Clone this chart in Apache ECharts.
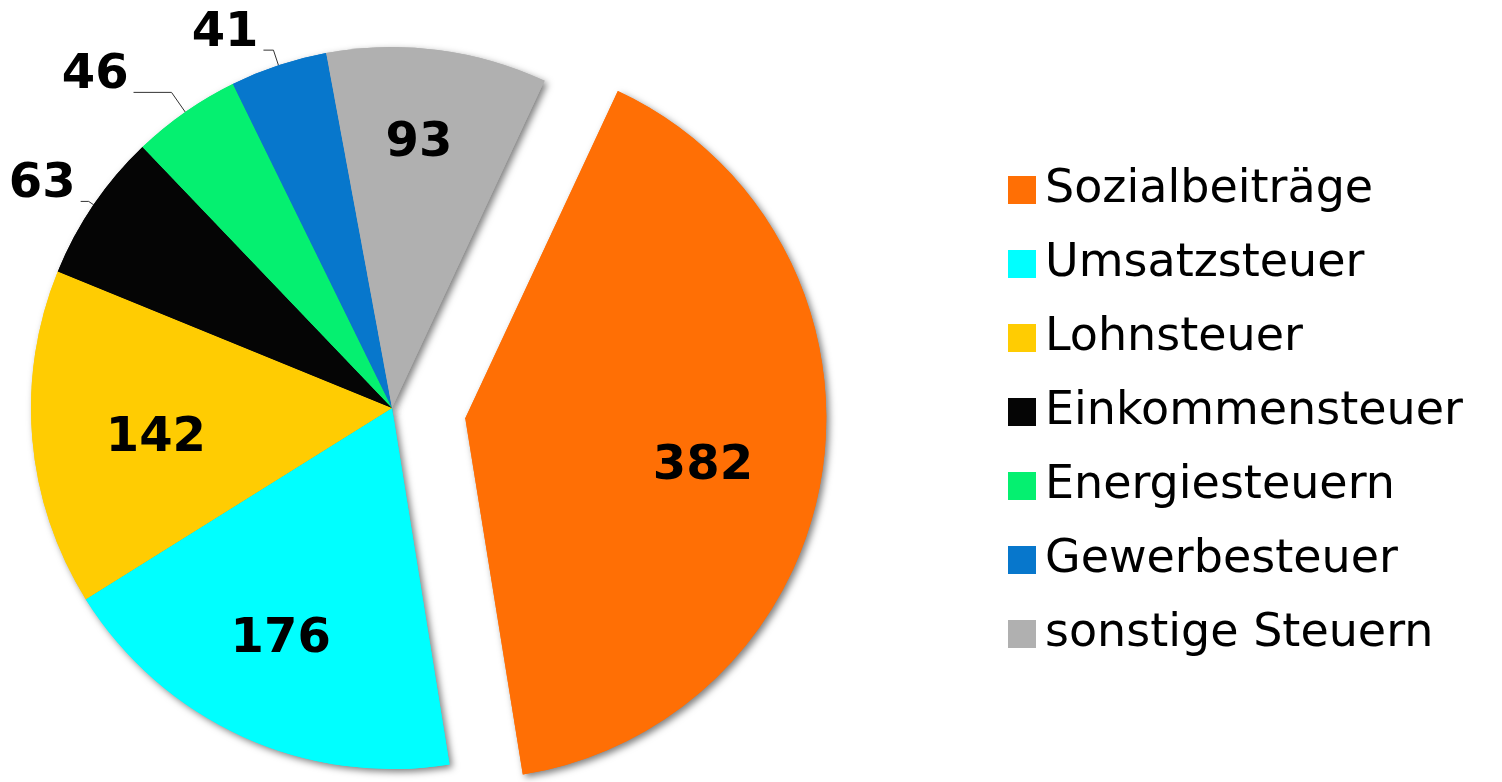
<!DOCTYPE html>
<html>
<head>
<meta charset="utf-8">
<title>Einnahmen</title>
<script src="https://cdn.jsdelivr.net/npm/echarts@6/dist/echarts.min.js"></script>
<style>
  html, body { margin: 0; padding: 0; background: #fff; }
  #chart { width: 1502px; height: 782px; }
</style>
</head>
<body>
<div id="chart"></div>
<script>
// Werte in Mrd. Euro
let categories = ['Sozialbeiträge', 'Umsatzsteuer', 'Lohnsteuer', 'Einkommensteuer', 'Energiesteuern', 'Gewerbesteuer', 'sonstige Steuern']
let values = [382, 176, 142, 63, 46, 41, 93]
let colors = ['#ff6f05', '#00ffff', '#ffcc02', '#050505', '#05f070', '#0777cc', '#b0b0b0']
// which slices get their number inside, the others get a label line
let insideLabel = [true, true, true, false, false, false, true]
// label line lengths for the outside ones
let lineLen = [0, 0, 0, 6, 24, 16, 0]
let lineLen2 = [0, 0, 0, 8, 38, 10, 0]
// empty space around the number to nudge it (px): above -> down, below -> up, left -> right, right -> left
let gapAbove = [30, 16, 20, 0, 0, 0, 0]
let gapBelow = [0, 0, 0, 34, 34, 34, 42]
let gapLeft = [0, 0, 16, 0, 0, 0, 0]
let gapRight = [10, 20, 0, 0, 0, 0, 8]

let center = [392, 408]
let radius = 361
let offset = 74

let numFont = {
  fontFamily: 'DejaVu Sans',
  fontWeight: 'bold',
  fontSize: 48,
  color: '#000'
}

function numLabel (i) {
  let f = '{v|{c}}'
  if (gapLeft[i]) f = '{l| }' + f
  if (gapRight[i]) f = f + '{r| }'
  if (gapAbove[i]) f = '{a| }\n' + f
  if (gapBelow[i]) f = f + '\n{g| }'
  return {
    formatter: f,
    rich: {
      v: Object.assign({ lineHeight: 48 }, numFont),
      a: { fontSize: 10, lineHeight: gapAbove[i] },
      g: { fontSize: 10, lineHeight: gapBelow[i] },
      l: { fontSize: 10, width: gapLeft[i] },
      r: { fontSize: 10, width: gapRight[i] }
    }
  }
}

function baseData () {
  return values.map((v, i) => ({
    name: categories[i],
    value: v,
    selected: i === 0,
    itemStyle: { color: colors[i] }
  }))
}

// colored slices + outside labels
let mainData = baseData().map((d, i) => {
  d.label = insideLabel[i] ? { show: false } : Object.assign({ show: true }, numLabel(i))
  d.labelLine = insideLabel[i] ? { show: false } : { show: true, length: lineLen[i], length2: lineLen2[i] }
  return d
})

// transparent ring, only to put the big numbers further out than half radius
let ringData = baseData().map((d, i) => {
  d.itemStyle = { color: 'rgba(0,0,0,0)' }
  d.label = Object.assign({ show: insideLabel[i] }, numLabel(i))
  return d
})

let common = {
  type: 'pie',
  center: center,
  startAngle: 65,
  selectedMode: 'single',
  selectedOffset: offset,
  avoidLabelOverlap: false,
  animation: false,
  emphasis: { disabled: true }
}

let option = {
  backgroundColor: '#fff',
  legend: {
    orient: 'vertical',
    left: 1003,
    top: 162,
    itemWidth: 28,
    itemHeight: 28,
    itemGap: 28,
    icon: 'rect',
    selectedMode: false,
    data: categories,
    textStyle: {
      fontFamily: 'DejaVu Sans',
      fontSize: 46,
      color: '#000',
      padding: [0, 0, 0, 4]
    }
  },
  series: [
    Object.assign({}, common, {
      name: 'Einnahmen',
      radius: [0, radius],
      z: 2,
      label: Object.assign({
        position: 'outside',
        distanceToLabelLine: 5
      }, numFont),
      labelLine: {
        lineStyle: { color: '#333', width: 1 }
      },
      data: mainData
    }),
    Object.assign({}, common, {
      name: 'Schatten',
      radius: [0, radius],
      z: 1,
      silent: true,
      label: { show: false },
      labelLine: { show: false },
      itemStyle: {
        shadowBlur: 7,
        shadowOffsetX: 3,
        shadowOffsetY: 3,
        shadowColor: 'rgba(0,0,0,0.5)'
      },
      data: baseData()
    }),
    Object.assign({}, common, {
      name: 'Zahlen',
      radius: [123, radius],
      z: 3,
      silent: true,
      label: Object.assign({ position: 'inside' }, numFont),
      labelLine: { show: false },
      data: ringData
    })
  ]
}

let chart = echarts.init(document.getElementById('chart'))
chart.setOption(option)
window.addEventListener('resize', () => chart.resize())
</script>
</body>
</html>
